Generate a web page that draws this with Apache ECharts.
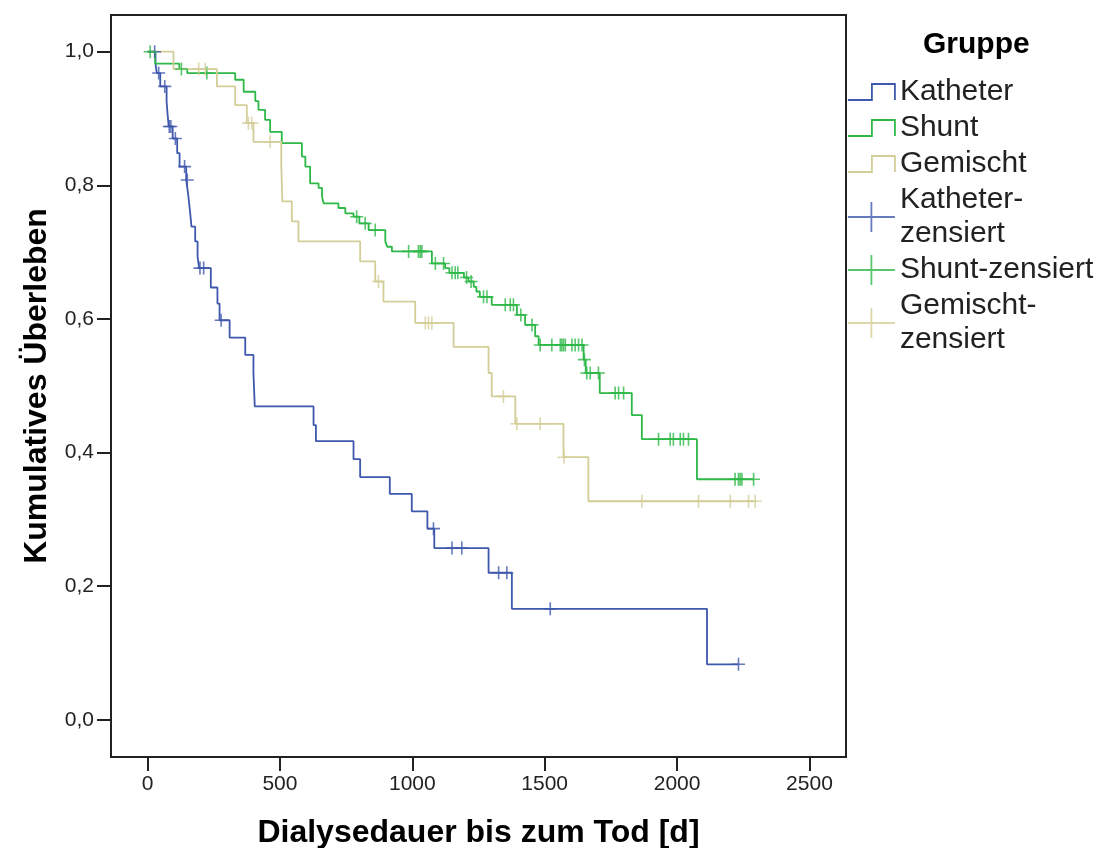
<!DOCTYPE html>
<html><head><meta charset="utf-8">
<script src="https://cdn.jsdelivr.net/npm/echarts@6/dist/echarts.min.js"></script>
<style>html,body{margin:0;padding:0;background:#fff}#c{width:1105px;height:848px}</style>
</head><body><div id="c"></div>
<script>
// ---- data (days, cumulative survival) ----
var xTicks = [0, 500, 1000, 1500, 2000, 2500];
var yTicks = [0, 0.2, 0.4, 0.6, 0.8, 1.0];
var groupNames = ['Katheter', 'Shunt', 'Gemischt'];
var censorNames = ['Katheter-\nzensiert', 'Shunt-zensiert', 'Gemischt-\nzensiert'];

var katheterTime = [0, 30, 35, 48, 72, 76, 80, 95, 112, 121, 146, 153, 160, 166, 180, 189, 195, 239, 264, 272, 310, 369, 400, 405, 627, 636, 778, 803, 915, 998, 1057, 1083, 1288, 1376, 2113];
var katheterSurv = [1.0, 0.982, 0.968, 0.948, 0.925, 0.905, 0.888, 0.870, 0.848, 0.828, 0.808, 0.788, 0.763, 0.738, 0.716, 0.693, 0.676, 0.647, 0.623, 0.598, 0.572, 0.546, 0.519, 0.469, 0.441, 0.417, 0.390, 0.363, 0.338, 0.312, 0.286, 0.257, 0.220, 0.166, 0.083];
var katheterCensor = [27, 42, 65, 82, 88, 105, 140, 150, 198, 212, 278, 1080, 1150, 1187, 1326, 1357, 1521, 2232];

var shuntTime = [0, 29, 120, 150, 331, 363, 407, 419, 444, 463, 507, 583, 596, 614, 646, 659, 665, 721, 747, 778, 800, 835, 898, 905, 923, 1074, 1124, 1140, 1195, 1212, 1232, 1242, 1255, 1300, 1395, 1426, 1464, 1477, 1647, 1655, 1708, 1829, 1867, 2075];
var shuntSurv = [1.0, 0.982, 0.974, 0.968, 0.958, 0.940, 0.926, 0.913, 0.898, 0.880, 0.863, 0.843, 0.828, 0.803, 0.796, 0.783, 0.773, 0.766, 0.758, 0.753, 0.743, 0.733, 0.716, 0.708, 0.701, 0.683, 0.676, 0.669, 0.662, 0.656, 0.648, 0.641, 0.633, 0.621, 0.606, 0.591, 0.574, 0.561, 0.539, 0.519, 0.489, 0.456, 0.420, 0.360];
var shuntCensor = [10, 128, 224, 790, 822, 860, 986, 1023, 1030, 1036, 1087, 1118, 1150, 1162, 1172, 1205, 1222, 1269, 1282, 1351, 1370, 1382, 1410, 1452, 1483, 1527, 1559, 1565, 1571, 1578, 1603, 1615, 1628, 1641, 1650, 1659, 1672, 1703, 1766, 1779, 1798, 1930, 1974, 1986, 2012, 2024, 2043, 2219, 2232, 2238, 2245, 2289];

var gemischtTime = [0, 98, 262, 331, 375, 400, 505, 509, 545, 570, 803, 860, 891, 1011, 1156, 1288, 1300, 1389, 1571, 1665];
var gemischtSurv = [1.0, 0.974, 0.948, 0.920, 0.893, 0.865, 0.833, 0.776, 0.746, 0.716, 0.686, 0.656, 0.626, 0.594, 0.558, 0.519, 0.484, 0.443, 0.393, 0.327];
var gemischtCensor = [193, 218, 381, 394, 463, 872, 1049, 1061, 1074, 1344, 1395, 1483, 1573, 1867, 2081, 2201, 2270, 2295];

var colors = ['#3E58AC', '#2EB848', '#D3CE97'];
var FONT = '"Liberation Sans", Arial, sans-serif';

function stepAt(times, surv, t) {
  var v = surv[0];
  for (var i = 0; i < times.length; i++) { if (times[i] <= t) v = surv[i]; }
  return v;
}
function curve(times, surv, censor) {
  var d = [];
  for (var i = 0; i < times.length; i++) d.push([times[i], surv[i]]);
  var end = censor[censor.length - 1];
  if (end > times[times.length - 1]) d.push([end, surv[surv.length - 1]]);
  return d;
}
function marks(times, surv, censor) {
  return censor.map(function (t) { return [t, stepAt(times, surv, t)]; });
}

var groups = [
  [katheterTime, katheterSurv, katheterCensor],
  [shuntTime, shuntSurv, shuntCensor],
  [gemischtTime, gemischtSurv, gemischtCensor]
];

var plusSym = 'path://M0,5L10,5M5,0L5,10';
var stepIcon = 'path://M0,0M47,30M0,23L24,23L24,7L47,7L47,23';
var crossIcon = 'path://M0,15L47,15M23.5,0L23.5,30';

var series = [];
var legendData = [];
groups.forEach(function (g, i) {
  series.push({
    name: groupNames[i], type: 'line', step: 'end', data: curve(g[0], g[1], g[2]),
    symbol: 'none', showSymbol: false, silent: true, z: 2,
    lineStyle: { color: colors[i], width: 1.8 }, itemStyle: { color: colors[i] }
  });
  legendData.push({ name: groupNames[i], icon: stepIcon,
    itemStyle: { color: 'transparent', borderColor: colors[i], borderWidth: 1.8 } });
});
groups.forEach(function (g, i) {
  series.push({
    name: censorNames[i], type: 'scatter', data: marks(g[0], g[1], g[2]),
    symbol: plusSym, symbolSize: 13, silent: true, z: 3,
    itemStyle: { color: 'transparent', borderColor: colors[i], borderWidth: 1.6 }
  });
  legendData.push({ name: censorNames[i], icon: crossIcon,
    itemStyle: { color: 'transparent', borderColor: colors[i], borderWidth: 1.8 } });
});

var chart = echarts.init(document.getElementById('c'), null, { renderer: 'canvas' });
chart.setOption({
  animation: false,
  backgroundColor: '#fff',
  textStyle: { fontFamily: FONT },
  title: {
    text: 'Gruppe', left: 923, top: 30, padding: 0,
    textStyle: { fontSize: 30, fontWeight: 'bold', color: '#000', fontFamily: FONT }
  },
  legend: {
    orient: 'vertical', left: 847, top: 75, padding: 0, itemGap: 2,
    itemWidth: 47, itemHeight: 30, selectedMode: false,
    textStyle: { fontSize: 30, lineHeight: 34, color: '#222', fontFamily: FONT },
    data: legendData
  },
  grid: {
    left: 111, right: 259, top: 15, bottom: 91, show: true,
    borderColor: '#222', borderWidth: 2, containLabel: false, outerBoundsMode: 'none'
  },
  xAxis: {
    type: 'value', min: -138, max: 2638,
    axisLine: { show: false, onZero: false }, splitLine: { show: false },
    axisTick: { show: true, inside: false, customValues: xTicks, length: 14, lineStyle: { color: '#222', width: 2 } },
    axisLabel: { customValues: xTicks, fontSize: 21, color: '#222', margin: 17, fontFamily: FONT,
      formatter: function (v) { return String(v); } },
    name: 'Dialysedauer bis zum Tod [d]', nameLocation: 'middle', nameGap: 60,
    nameTextStyle: { fontSize: 32, fontWeight: 'bold', color: '#000', fontFamily: FONT }
  },
  yAxis: {
    type: 'value', min: -0.0558, max: 1.0549,
    axisLine: { show: false, onZero: false }, splitLine: { show: false },
    axisTick: { show: true, inside: false, customValues: yTicks, length: 14, lineStyle: { color: '#222', width: 2 } },
    axisLabel: { customValues: yTicks, fontSize: 21, color: '#222', margin: 17, fontFamily: FONT,
      formatter: function (v) { return v.toFixed(1).replace('.', ','); } },
    name: 'Kumulatives Überleben', nameLocation: 'middle', nameGap: 58,
    nameTextStyle: { fontSize: 32, fontWeight: 'bold', color: '#000', fontFamily: FONT }
  },
  series: series
});
</script></body></html>
